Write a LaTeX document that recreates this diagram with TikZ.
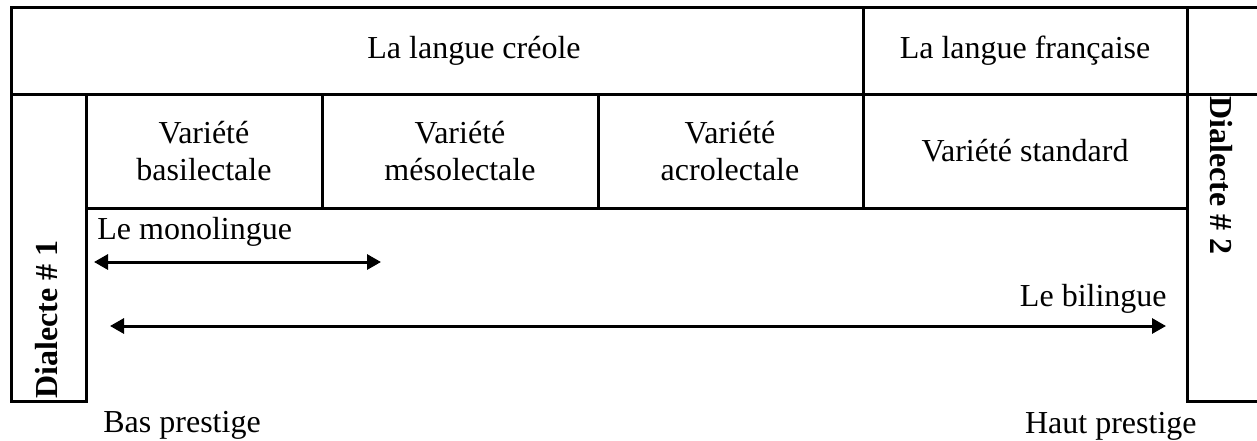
\documentclass[tikz,border=0pt]{standalone}
\usepackage{fontspec}
\setmainfont{Liberation Serif}
\usetikzlibrary{arrows.meta}

\tikzset{
  cadre/.style={line width=1.5pt},
  cellule/.style={align=center, inner sep=0pt, font=\fontsize{16}{18.5}\selectfont},
  etiquette/.style={inner sep=0pt, font=\fontsize{16}{18.5}\selectfont},
  dialecte/.style={inner sep=0pt, font=\fontsize{16}{18.5}\selectfont\bfseries},
  fleche/.style={{Triangle[length=7pt,width=7.5pt]}-{Triangle[length=7pt,width=7.5pt]}, line width=1.5pt}
}

\begin{document}
\begin{tikzpicture}[x=0.5pt, y=-0.5pt]
  \useasboundingbox (0,0) rectangle (1257,440);

  % grille du tableau
  \draw[cadre] (1257,7) -- (11,7) -- (11,401) -- (86,401) -- (86,94);
  \draw[cadre] (11,94) -- (1257,94);
  \draw[cadre] (1257,401) -- (1187,401) -- (1187,7);
  \draw[cadre] (86,208) -- (1187,208);
  \draw[cadre] (863,7) -- (863,208);
  \foreach \x in {322,598}
  {
  \draw[cadre] (\x,94) -- (\x,208);
  }

  \node[cellule] (creole) at (474,51) {La langue créole};
  \node[cellule] (francaise) at (1025,51) {La langue française};

  \node[cellule] (basi) at (204,151) {Variété\\basilectale};
  \node[cellule] (meso) at (460,151) {Variété\\mésolectale};
  \node[cellule] (acro) at (730,151) {Variété\\acrolectale};
  \node[cellule] (standard) at (1025,151) {Variété standard};

  \node[dialecte, rotate=90, anchor=base west] (dial1) at (57,399) {Dialecte \# 1};
  \node[dialecte, rotate=-90, anchor=base west] (dial2) at (1210,96) {Dialecte \# 2};

  \node[etiquette, anchor=base west] (mono) at (97,239) {Le monolingue};
  \node[etiquette, anchor=base east] (bili) at (1167,306) {Le bilingue};

  \coordinate (mono-g) at (94,262);
  \coordinate (mono-d) at (381,262);
  \coordinate (bili-g) at (110,326);
  \coordinate (bili-d) at (1166,326);
  \draw[fleche] (mono-g) -- (mono-d);
  \draw[fleche] (bili-g) -- (bili-d);

  \node[etiquette, anchor=base west] (bas) at (103,432) {Bas prestige};
  \node[etiquette, anchor=base east] (haut) at (1197,433) {Haut prestige};

\end{tikzpicture}
\end{document}
